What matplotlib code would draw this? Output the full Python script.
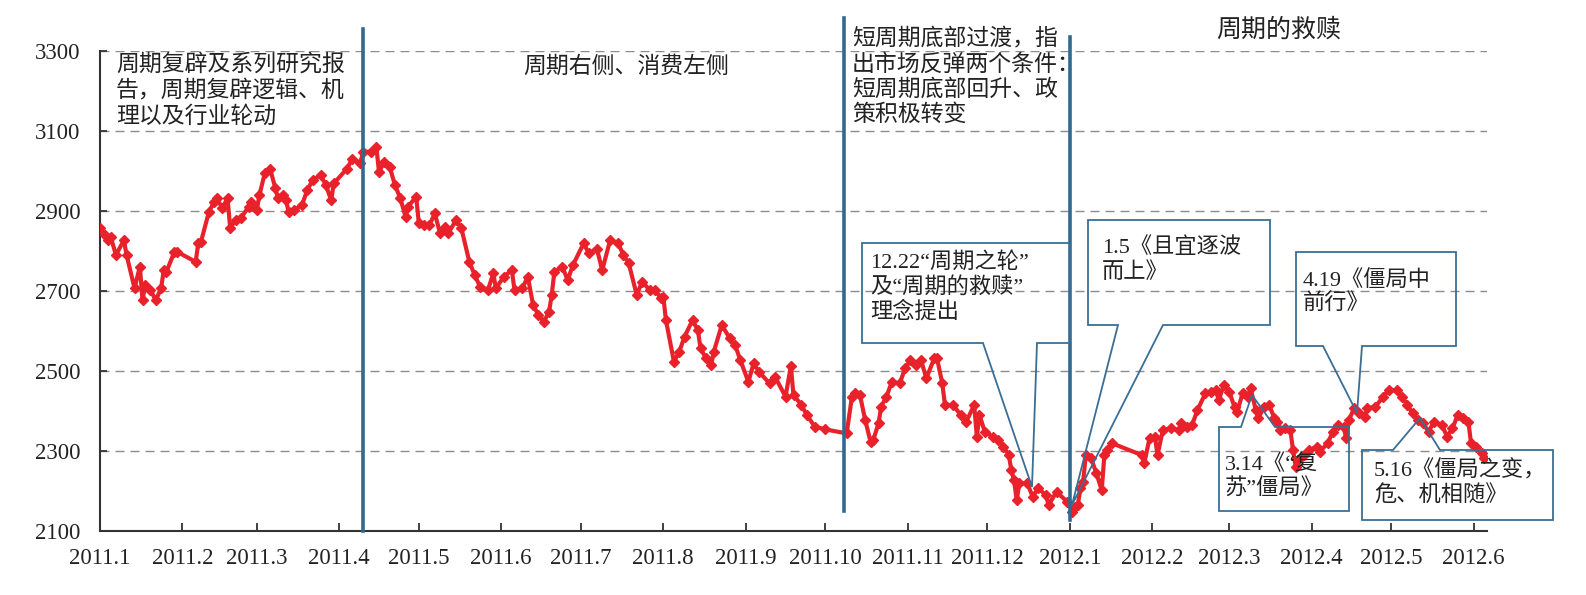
import pandas as pd
import matplotlib
matplotlib.use('Agg')
import matplotlib.pyplot as plt
from matplotlib.patches import Polygon

W, H = 1586, 595

# 上证综指收盘: 自 2011-01-01 起的天数, 点位
day_offset = [
    0, 2, 3, 4, 6, 9, 10, 13, 15, 16, 17, 19, 21, 23, 24, 25, 28, 29, 36, 37,
    38, 41, 43, 44, 46, 48, 49, 51, 53, 56, 57, 59, 60, 62, 64, 66, 67, 69, 70, 71,
    73, 76, 78, 80, 83, 85, 87, 88, 93, 95, 98, 99, 102, 104, 105, 107, 109, 111, 113, 115,
    116, 119, 120, 122, 124, 126, 128, 130, 131, 134, 136, 139, 141, 143, 146, 148, 149, 152, 155, 156,
    159, 161, 163, 165, 167, 169, 170, 171, 174, 176, 178, 182, 184, 187, 189, 192, 195, 197, 199, 202,
    204, 207, 209, 211, 212, 213, 216, 218, 220, 223, 225, 226, 228, 230, 231, 234, 237, 239, 241, 244,
    246, 248, 252, 254, 258, 260, 261, 264, 266, 269, 273, 281, 283, 284, 286, 288, 290, 291, 293, 294,
    296, 298, 301, 303, 305, 307, 309, 311, 314, 315, 317, 318, 321, 324, 326, 329, 330, 331, 333, 336,
    338, 340, 342, 343, 344, 345, 346, 349, 351, 353, 356, 357, 360, 364, 366, 367, 368, 369, 370, 371,
    373, 375, 377, 378, 379, 381, 392, 393, 395, 397, 398, 400, 403, 406, 407, 409, 411, 413, 416, 418,
    420, 421, 423, 425, 427, 428, 430, 432, 433, 435, 436, 438, 440, 442, 443, 444, 446, 448, 449, 450,
    451, 453, 455, 458, 459, 462, 464, 466, 468, 469, 470, 472, 474, 476, 477, 480, 483, 485, 488, 490,
    492, 494, 496, 498, 500, 502, 505, 507, 509, 511, 513, 515, 516, 518, 520, 521,
]
close = [
    2857, 2840, 2827, 2836, 2790, 2827, 2790, 2707, 2761, 2677, 2715, 2702, 2677, 2707, 2752, 2748, 2798, 2798, 2773, 2820,
    2823, 2898, 2923, 2932, 2907, 2932, 2857, 2877, 2882, 2911, 2923, 2902, 2940, 2994, 3006, 2957, 2932, 2940, 2927, 2898,
    2902, 2915, 2952, 2977, 2990, 2965, 2927, 2969, 3006, 3031, 3019, 3048, 3048, 3061, 2998, 3023, 3011, 2965, 2932, 2886,
    2911, 2936, 2869, 2865, 2865, 2894, 2844, 2861, 2844, 2877, 2857, 2773, 2740, 2711, 2702, 2744, 2707, 2736, 2752, 2702,
    2707, 2736, 2665, 2640, 2623, 2648, 2690, 2748, 2761, 2727, 2765, 2819, 2794, 2806, 2752, 2827, 2819, 2790, 2769, 2690,
    2723, 2702, 2702, 2682, 2686, 2627, 2523, 2548, 2586, 2627, 2602, 2557, 2532, 2515, 2548, 2615, 2582, 2565, 2527, 2473,
    2519, 2498, 2469, 2486, 2436, 2512, 2440, 2415, 2390, 2361, 2354, 2344, 2436, 2444, 2440, 2377, 2323, 2327, 2369, 2411,
    2436, 2473, 2469, 2507, 2527, 2515, 2527, 2482, 2532, 2532, 2469, 2415, 2415, 2390, 2373, 2415, 2336, 2390, 2348, 2336,
    2327, 2311, 2290, 2252, 2227, 2177, 2219, 2219, 2186, 2207, 2190, 2165, 2198, 2173, 2148, 2161, 2165, 2207, 2223, 2290,
    2282, 2244, 2202, 2290, 2302, 2319, 2290, 2269, 2332, 2336, 2290, 2352, 2357, 2352, 2369, 2361, 2365, 2402, 2444, 2448,
    2452, 2427, 2465, 2448, 2410, 2398, 2444, 2436, 2457, 2402, 2382, 2411, 2415, 2382, 2373, 2352, 2357, 2352, 2302, 2261,
    2277, 2290, 2302, 2311, 2298, 2319, 2348, 2365, 2361, 2332, 2377, 2407, 2394, 2386, 2407, 2411, 2436, 2452, 2452, 2436,
    2415, 2394, 2377, 2369, 2348, 2373, 2365, 2336, 2357, 2390, 2382, 2373, 2319, 2311, 2294, 2282,
]

y_ticks = [2100, 2300, 2500, 2700, 2900, 3100, 3300]
month_ticks = pd.date_range('2011-01-01', '2012-06-01', freq='MS')
month_labels = [f'{d.year}.{d.month}' for d in month_ticks]

# 阶段分界线
event_dates = ['2011-04-10', '2011-10-08', '2012-01-01']
event_low = [2100, 2150, 2127]
event_high = [3355, 3382, 3335]

stage_texts = [
    '周期复辟及系列研究报\n告，周期复辟逻辑、机\n理以及行业轮动',
    '周期右侧、消费左侧',
    '短周期底部过渡，指\n出市场反弹两个条件：\n短周期底部回升、政\n策积极转变',
    '周期的救赎',
]
callout_texts = [
    '12.22“周期之轮”\n及“周期的救赎”\n理念提出',
    '1.5《且宜逐波\n而上》',
    '4.19《僵局中\n前行》',
    '3.14《“复\n苏”僵局》',
    '5.16《僵局之变，\n危、机相随》',
]

# 版式 (像素, 原点在左上)
stage_pos = [(116, 91.5, 'left'), (626, 67, 'center'), (852, 77, 'left'), (1279, 30, 'center')]
stage_size = [16.5, 16.5, 16.5, 18]
callout_pos = [(870, 287.5), (1102, 260), (1303, 292.5), (1225, 477.5), (1374, 483.5)]
callout_shapes = [
    [(862, 243), (1070, 243), (1070, 343), (1037, 343), (1032, 487), (983, 343), (862, 343)],
    [(1088, 220), (1270, 220), (1270, 325), (1163, 325), (1072, 505), (1118, 325), (1088, 325)],
    [(1296, 252), (1456, 252), (1456, 346), (1362, 346), (1357, 413), (1323, 346), (1296, 346)],
    [(1219, 427), (1241, 427), (1252, 395), (1275, 427), (1349, 427), (1349, 511), (1219, 511)],
    [(1362, 450), (1393, 450), (1420, 418), (1440, 450), (1553, 450), (1553, 520), (1362, 520)],
]

FONT = ['Liberation Serif', 'Noto Sans CJK SC', 'DejaVu Sans']
plt.rcParams['font.family'] = FONT
RED = '#e8212b'
BLUE = '#31698f'


def fxy(x, y):
    return x / W, 1 - y / H


fig = plt.figure(figsize=(W / 100, H / 100), dpi=100)
ax = fig.add_axes([100 / W, 1 - 531 / H, 1387 / W, 480 / H])

dates = pd.Timestamp('2011-01-01') + pd.to_timedelta(day_offset, unit='D')
ax.plot(dates, close, color=RED, lw=3.0, marker='D', ms=4.6, mec=RED, mfc=RED, zorder=3)

for d, lo, hi in zip(event_dates, event_low, event_high):
    ax.plot([pd.Timestamp(d)] * 2, [lo, hi], color=BLUE, lw=2.6, clip_on=False, zorder=4)

ax.set_xlim(pd.Timestamp('2011-01-01'), pd.Timestamp('2012-06-06'))
ax.set_ylim(2100, 3300)
ax.set_yticks(y_ticks)
ax.set_xticks(month_ticks)
ax.set_xticklabels(month_labels)
ax.grid(axis='y', color='#8c8c8c', lw=1.0, linestyle=(0, (6.5, 4.3)))
ax.set_axisbelow(True)

for side in ['top', 'right']:
    ax.spines[side].set_visible(False)
for side in ['left', 'bottom']:
    ax.spines[side].set_color('#333333')
    ax.spines[side].set_linewidth(1.5)
ax.tick_params(axis='x', direction='in', length=6, width=1.3, color='#333333',
               labelsize=16.5, labelcolor='#222222', pad=12)
ax.tick_params(axis='y', direction='in', length=5, width=1.3, color='#333333',
               labelsize=16.5, labelcolor='#222222', pad=14)

for txt, (x, y, ha), fs in zip(stage_texts, stage_pos, stage_size):
    fx, fy = fxy(x, y)
    fig.text(fx, fy, txt, ha=ha, va='center', fontsize=fs, color='#222222',
             linespacing=1.22, family=FONT)

for pts, txt, (x, y) in zip(callout_shapes, callout_texts, callout_pos):
    poly = Polygon([fxy(px, py) for px, py in pts], closed=True, fill=False,
                   edgecolor='#3a6e94', lw=1.3, transform=fig.transFigure, zorder=5)
    fig.add_artist(poly)
    fx, fy = fxy(x, y)
    fig.text(fx, fy, txt, ha='left', va='center', fontsize=16, color='#222222',
             linespacing=1.22, family=FONT)

fig.savefig('out.png', dpi=100)
